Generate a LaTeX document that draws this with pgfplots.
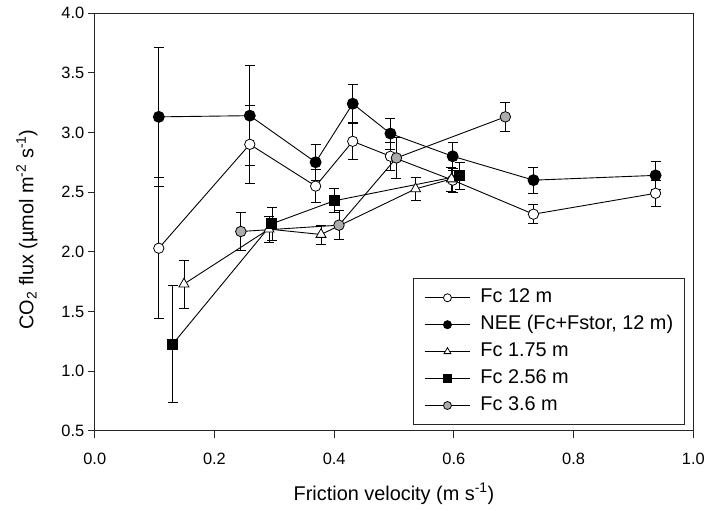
\documentclass[border=0pt]{standalone}
\usepackage{pgfplots}
\pgfplotsset{compat=1.18}
\usepackage{pgfplotstable}
\usepackage{fontspec}
\setmainfont{Liberation Sans}
\definecolor{markgray}{RGB}{172,172,172}

\pgfplotstableread{
x y e
0.107 2.03 0.59
0.259 2.90 0.33
0.369 2.55 0.14
0.431 2.925 0.15
0.494 2.80 0.12
0.598 2.60 0.10
0.733 2.315 0.08
0.937 2.49 0.11
}\fctwelve
\pgfplotstableread{
x y e
0.107 3.13 0.58
0.259 3.14 0.42
0.369 2.75 0.15
0.431 3.24 0.16
0.494 2.99 0.13
0.598 2.80 0.12
0.733 2.60 0.11
0.937 2.64 0.12
}\nee
\pgfplotstableread{
x y e
0.149 1.73 0.20
0.291 2.19 0.11
0.378 2.145 0.08
0.536 2.527 0.10
0.596 2.61 0.10
}\fcone
\pgfplotstableread{
x y e
0.130 1.226 0.49
0.296 2.235 0.14
0.400 2.427 0.10
0.610 2.636 0.11
}\fctwo
\pgfplotstableread{
x y e
0.244 2.17 0.16
0.408 2.223 0.12
0.504 2.786 0.17
0.686 3.13 0.12
}\fcthree

\begin{document}
\begin{tikzpicture}
\begin{axis}[
  at={(0,0)}, anchor=south west,
  width=600bp, height=419bp, scale only axis,
  xmin=0, xmax=1, ymin=0.5, ymax=4,
  xtick={0,0.2,0.4,0.6,0.8,1.0},
  ytick={0.5,1.0,1.5,2.0,2.5,3.0,3.5,4.0},
  tick pos=left, tick align=outside,
  major tick length=7bp,
  axis line style={line width=0.9bp, black!85},
  every tick/.style={line width=0.9bp, black!85},
  /pgf/number format/assume math mode=true,
  /pgf/number format/fixed, /pgf/number format/fixed zerofill,
  /pgf/number format/precision=1,
  every tick label/.append style={font=\fontsize{16.5}{18}\selectfont},
  xticklabel style={font=\fontsize{16.5}{18}\selectfont, anchor=north, yshift=-12bp},
  yticklabel style={font=\fontsize{16.5}{18}\selectfont, anchor=east},
  xlabel={Friction velocity (m s\textsuperscript{-1})},
  ylabel={CO\textsubscript{2} flux (µmol m\textsuperscript{-2} s\textsuperscript{-1})},
  xlabel style={font=\fontsize{20}{22}\selectfont, at={(axis description cs:0.5,0)}, anchor=base, yshift=-69.7bp},
  ylabel style={font=\fontsize{20}{22}\selectfont, at={(axis description cs:0,0.482)}, anchor=base, yshift=61.5bp},
  error bars/error bar style={line width=0.8bp, black},
  error bars/error mark options={rotate=90, mark size=5bp, line width=0.8bp, black},
  legend image code/.code={\draw[mark repeat=2, mark phase=2, mark size=4bp] plot coordinates {(0bp,0bp) (23bp,0bp) (46bp,0bp)};},
  legend cell align=left,
  legend style={at={(rel axis cs:0.9867,0.0143)}, anchor=south east,
    draw=black!85, line width=1bp,
    font=\fontsize{20}{22}\selectfont,
    inner xsep=10.7bp, inner ysep=9bp,
    row sep=7bp,
    nodes={inner sep=1bp, text height=14bp, text depth=4bp},
    /tikz/every odd column/.append style={column sep=8.6bp}},
]
\addplot[black, line width=0.9bp, mark=*, mark size=5.2bp, mark options={fill=white, line width=0.8bp},
  error bars/.cd, y dir=both, y explicit] table[x=x, y=y, y error=e] {\fctwelve};
\addlegendentry{Fc 12 m}
\addplot[black, line width=0.9bp, mark=*, mark size=5.5bp, mark options={fill=black},
  error bars/.cd, y dir=both, y explicit] table[x=x, y=y, y error=e] {\nee};
\addlegendentry{NEE (Fc+Fstor, 12 m)}
\addplot[black, line width=0.9bp, mark=triangle*, mark size=5.8bp, mark options={fill=white, line width=0.8bp},
  error bars/.cd, y dir=both, y explicit] table[x=x, y=y, y error=e] {\fcone};
\addlegendentry{Fc 1.75 m}
\addplot[black, line width=0.9bp, mark=square*, mark size=5bp, mark options={fill=black},
  error bars/.cd, y dir=both, y explicit] table[x=x, y=y, y error=e] {\fctwo};
\addlegendentry{Fc 2.56 m}
\addplot[black, line width=0.9bp, mark=*, mark size=5.3bp, mark options={fill=markgray, line width=0.8bp},
  error bars/.cd, y dir=both, y explicit] table[x=x, y=y, y error=e] {\fcthree};
\addlegendentry{Fc 3.6 m}
\end{axis}
\path[use as bounding box] (-95bp,-80bp) rectangle (613bp,432bp);
\end{tikzpicture}
\end{document}
